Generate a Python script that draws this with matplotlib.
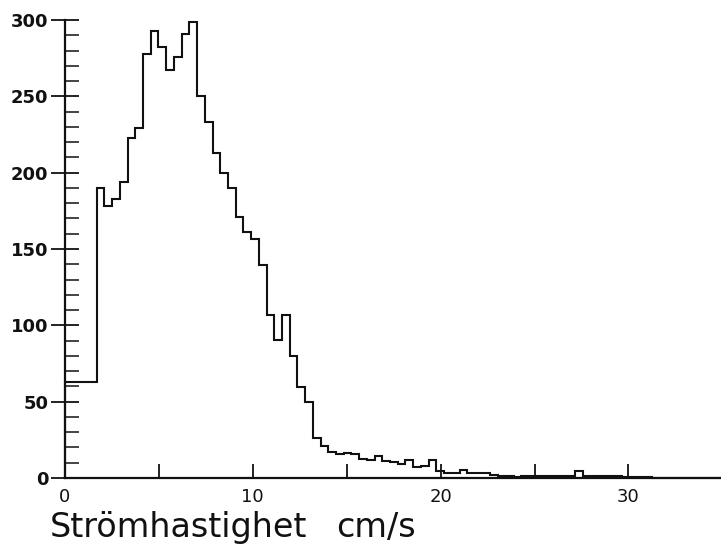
import numpy as np
import matplotlib
matplotlib.use("Agg")
import matplotlib.pyplot as plt
from matplotlib.ticker import MultipleLocator, FixedLocator

# Histogram of current speed (cm/s)
first_edge = 1.69          # end of the first (wide) bin, cm/s
bin_width = 0.411          # width of the remaining bins, cm/s
counts = [63,
          190, 178, 183, 194, 223, 229, 278, 293, 282, 267,
          276, 291, 299, 250, 233, 213, 200, 190, 171, 161,
          156.5, 139.5, 107, 90.5, 107, 80, 59.5, 50, 26, 21,
          17, 15.5, 16.5, 15.5, 12.5, 11.5, 14.5, 11, 10.5, 9,
          12, 7, 8, 12, 4.5, 3.5, 3.5, 5.5, 3, 3,
          3, 2, 1, 1, 0.5, 1, 1.5, 1.5, 1.5, 1.5,
          1.5, 1.5, 4.5, 1.5, 1, 1, 1, 1, 0.5, 0.5,
          0.5, 0.5, 0.3, 0.3, 0.3, 0.3, 0.3, 0.3, 0.3, 0.3, 0.3]
y_major = [0, 50, 100, 150, 200, 250, 300]
x_major = [0, 10, 20, 30]
x_minor = [5, 15, 25, 35]
xlabel = "Strömhastighet cm/s"

edges = np.concatenate([[0.0], first_edge + bin_width * np.arange(len(counts))])

fig = plt.figure(figsize=(7.21, 5.53), dpi=100)
ax = fig.add_axes([65/721, 75/553, 1 - 65/721, 458/553])

ax.stairs(counts, edges, baseline=0, color="#111111", linewidth=1.5, clip_on=False)

ax.set_xlim(0, (721 - 65) / 18.78)
ax.set_ylim(0, 300)

for s in ("top", "right"):
    ax.spines[s].set_visible(False)
for s in ("left", "bottom"):
    ax.spines[s].set_linewidth(1.6)
    ax.spines[s].set_color("#111111")

ax.yaxis.set_major_locator(FixedLocator(y_major))
ax.yaxis.set_minor_locator(MultipleLocator(10))
ax.xaxis.set_major_locator(FixedLocator(x_major))
ax.xaxis.set_minor_locator(FixedLocator(x_minor))

ax.tick_params(axis="y", which="major", direction="inout", length=20, width=1.3,
               pad=2, labelsize=13, colors="#111111")
ax.tick_params(axis="y", which="minor", direction="in", length=10, width=1.1, colors="#111111")
ax.tick_params(axis="x", which="both", direction="in", length=10, width=1.3,
               pad=7, labelsize=13, colors="#111111")

ax.set_yticklabels([str(v) for v in y_major], fontweight="bold")
ax.set_xticklabels([str(v) for v in x_major])

words = xlabel.split(" ")
fig.text(50/721, (553 - 537)/553, words[0], ha="left", va="baseline",
         fontsize=24, color="#111111")
fig.text(336/721, (553 - 537)/553, words[1], ha="left", va="baseline",
         fontsize=24, color="#111111")

fig.savefig("out.png", dpi=100)
